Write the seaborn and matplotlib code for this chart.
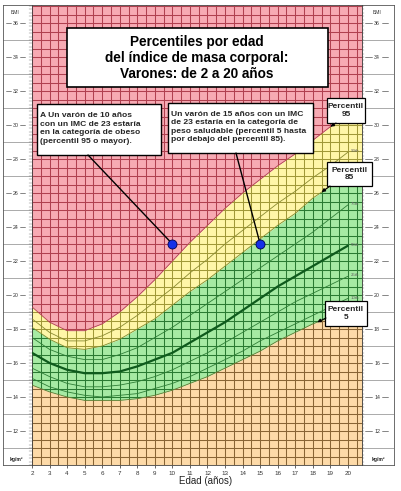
import numpy as np
import matplotlib
matplotlib.use("Agg")
import matplotlib.pyplot as plt
import seaborn as sns
from matplotlib.collections import LineCollection
from matplotlib.patches import Rectangle

# Percentile curves, boys BMI-for-age
ages = [2, 3, 4, 5, 6, 7, 8, 9, 10, 11, 12, 13, 14, 15, 16, 17, 18, 19, 20]
p5 = [14.7, 14.3, 14.0, 13.8, 13.8, 13.8, 13.9, 14.1, 14.4, 14.8, 15.2, 15.7, 16.2, 16.7, 17.3, 17.8, 18.3, 18.7, 19.1]
p10 = [15.1, 14.6, 14.3, 14.1, 14.0, 14.1, 14.2, 14.5, 14.8, 15.2, 15.7, 16.2, 16.7, 17.3, 17.8, 18.3, 18.8, 19.3, 19.8]
p25 = [15.7, 15.2, 14.8, 14.6, 14.6, 14.7, 14.9, 15.2, 15.6, 16.1, 16.6, 17.2, 17.8, 18.4, 19.0, 19.6, 20.1, 20.6, 21.1]
p50 = [16.6, 16.0, 15.6, 15.4, 15.4, 15.5, 15.8, 16.2, 16.6, 17.2, 17.8, 18.4, 19.1, 19.8, 20.5, 21.1, 21.7, 22.3, 22.9]
p75 = [17.5, 16.8, 16.4, 16.2, 16.2, 16.5, 16.9, 17.5, 18.1, 18.8, 19.5, 20.2, 20.9, 21.6, 22.3, 23.0, 23.7, 24.5, 25.3]
p85 = [18.1, 17.4, 16.9, 16.8, 17.0, 17.4, 18.0, 18.6, 19.4, 20.2, 20.9, 21.7, 22.5, 23.3, 24.1, 24.8, 25.7, 26.4, 27.0]
p90 = [18.6, 17.8, 17.3, 17.3, 17.6, 18.1, 18.8, 19.6, 20.4, 21.3, 22.1, 23.0, 23.8, 24.6, 25.4, 26.1, 26.9, 27.6, 28.4]
p95 = [19.3, 18.4, 17.9, 17.9, 18.3, 19.0, 19.9, 20.9, 22.0, 23.1, 24.1, 25.1, 26.0, 26.8, 27.6, 28.3, 29.1, 29.9, 30.6]

thin_labels = ["10th", "25th", "75th", "90th"]
tick_ages = list(range(2, 21))
bmi_labels = list(range(12, 37, 2))

dot_ages = [10, 15]
dot_bmi = [23, 23]

title = "Percentiles por edad\ndel índice de masa corporal:\nVarones: de 2 a 20 años"
note_a = ("A Un varón de 10 años\ncon un IMC de 23 estaría\n"
          "en la categoría de obeso\n(percentil 95 o mayor).")
note_b = ("Un varón de 15 años con un IMC\nde 23 estaría en la categoría de\n"
          "peso saludable (percentil 5 hasta\npor debajo del percentil 85).")

sns.set_style("white")
plt.rcParams['font.family'] = ['Liberation Sans', 'DejaVu Sans']

W, H = 402, 491
fig = plt.figure(figsize=(W / 100, H / 100), dpi=100)


def frac(x, y, w, h):
    return [x / W, 1 - (y + h) / H, w / W, h / H]


x0, x1 = 2, 2 + 330 / 17.55
y0, y1 = 10, 10 + 460 / 17.0


# BMI strips on both sides (drawn under the main chart)
def strip(rect, lab_x, dashes, ruler):
    s = fig.add_axes(frac(*rect))
    s.set_zorder(1)
    s.set_xlim(0, rect[2])
    s.set_ylim(y0, y1)
    s.set_xticks([])
    s.set_yticks([])
    for sp in s.spines.values():
        sp.set_linewidth(0.6)
        sp.set_color("#555555")
    for v in range(11, 37, 2):
        s.plot([0, rect[2]], [v, v], color="#888888", lw=0.5)
    for v in bmi_labels:
        s.text(lab_x, v, str(v), fontsize=3.8, ha="center", va="center", color="#333333")
        for a, b in dashes:
            s.plot([a, b], [v, v], color="#555555", lw=0.5)
    for v in np.arange(10, y1, 0.2):
        s.plot(ruler, [v, v], color="#666666", lw=0.3)
    s.text(lab_x, 36.6, "BMI", fontsize=3.6, ha="center", va="center", color="#333333")
    s.text(lab_x + 1, 10.35, "kg/m²", fontsize=3.6, ha="center", va="center",
           fontweight="bold", color="#222222")


strip((3, 5, 29, 460), 12.5, [(3, 8), (17, 22)], [26.5, 29])
strip((362, 5, 32, 460), 15, [(3, 10), (20, 26)], [0, 2.5])

ax = fig.add_axes(frac(32, 5, 330, 460))
ax.set_zorder(3)
ax.set_xlim(x0, x1)
ax.set_ylim(y0, y1)


def dx(px):
    return x0 + (px - 32) / 330 * (x1 - x0)


def dy(py):
    return y0 + (465 - py) / 460 * (y1 - y0)


# extend the coloured bands to the right edge of the grid
def extend(s):
    return list(s) + [s[-1] + (s[-1] - s[-2]) * (x1 - ages[-1])]


ext_x = ages + [x1]
bands = [
    (extend(p95), [y1] * len(ext_x), "#F7AAB3", "#B0404F"),
    (extend(p85), extend(p95), "#FFF6A8", "#A09838"),
    (extend(p5), extend(p85), "#A6EAA3", "#2A7A32"),
    ([y0] * len(ext_x), extend(p5), "#FDDAA8", "#886434"),
]

gx = np.arange(2, x1, 0.5)
gy = np.arange(10, y1, 0.5)
segs = [[(x, y0), (x, y1)] for x in gx] + [[(x0, y), (x1, y)] for y in gy]

for lo, hi, fc, gc in bands:
    poly = ax.fill_between(ext_x, lo, hi, color=fc, lw=0, zorder=1)
    lc = LineCollection(segs, colors=gc, linewidths=0.75, zorder=2)
    ax.add_collection(lc)
    lc.set_clip_path(poly.get_paths()[0], ax.transData)

# percentile lines
for s, c in [(p95, "#B0404F"), (p85, "#7E8A2E"), (p5, "#5E7A30")]:
    sns.lineplot(x=ages, y=s, ax=ax, color=c, lw=0.6, zorder=3)
for s, c in [(p10, "#2E7E36"), (p25, "#2E7E36"), (p75, "#2E7E36"), (p90, "#8A8A30")]:
    sns.lineplot(x=ages, y=s, ax=ax, color=c, lw=0.6, zorder=3)
sns.lineplot(x=ages, y=p50, ax=ax, color="#0E5A1C", lw=1.6, zorder=4)

for lab, s in zip(thin_labels + ["50th"], [p10, p25, p75, p90, p50]):
    ax.text(ages[-1] + 0.15, s[-1] + 0.05, lab, fontsize=3.2, color="#666666",
            ha="left", va="center", zorder=5)

# title box
ax.add_patch(Rectangle((dx(67), dy(87)), dx(328) - dx(67), dy(28) - dy(87),
                       fc="white", ec="black", lw=1.2, zorder=6))
ax.text(dx(197), dy(58), title, ha="center", va="center", fontsize=9.8,
        fontweight="bold", linespacing=1.15, zorder=7, color="black")

# annotation boxes
ax.add_patch(Rectangle((dx(37), dy(155)), dx(161) - dx(37), dy(104) - dy(155),
                       fc="white", ec="black", lw=1.0, zorder=6))
ax.text(dx(40), dy(128.5), note_a, ha="left", va="center", fontsize=6.1,
        fontweight="bold", linespacing=1.3, zorder=7)
ax.add_patch(Rectangle((dx(168), dy(153)), dx(313) - dx(168), dy(103) - dy(153),
                       fc="white", ec="black", lw=1.0, zorder=6))
ax.text(dx(171), dy(127), note_b, ha="left", va="center", fontsize=6.1,
        fontweight="bold", linespacing=1.3, zorder=7)

ax.plot([dx(88), dot_ages[0]], [dy(155), dot_bmi[0]], color="black", lw=1.0, zorder=6)
ax.plot([dx(236), dot_ages[1]], [dy(153), dot_bmi[1]], color="black", lw=1.0, zorder=6)
sns.scatterplot(x=dot_ages, y=dot_bmi, ax=ax, s=42, color="#1530E8",
                edgecolor="#000050", linewidth=0.6, zorder=8)

# "Percentil" call-outs
callouts = [
    ("95", (327, 98, 365, 123), 19, p95, (336, 123)),
    ("85", (327, 162, 372, 186), 18.5, p85, (330, 186)),
    ("5", (325, 301, 367, 326), 18.25, p5, (326, 318)),
]
for lab, (l, t, r, b), a, s, start in callouts:
    ax.add_patch(Rectangle((dx(l), dy(b)), dx(r) - dx(l), dy(t) - dy(b),
                           fc="white", ec="black", lw=0.9, zorder=9, clip_on=False))
    ax.text((dx(l) + dx(r)) / 2, (dy(t) + dy(b)) / 2, "Percentil\n" + lab,
            ha="center", va="center", fontsize=6.0, fontweight="bold",
            linespacing=1.05, zorder=10, clip_on=False)
    ax.annotate("", xy=(a, np.interp(a, ages, s)), xytext=(dx(start[0]), dy(start[1])),
                arrowprops=dict(arrowstyle="-|>", color="black", lw=0.8,
                                mutation_scale=5, shrinkA=0, shrinkB=0), zorder=9)

ax.set_xticks(tick_ages)
ax.set_xticklabels([str(a) for a in tick_ages], fontsize=4.5, color="#333333")
ax.tick_params(axis="x", length=2, width=0.5, pad=2, direction="out", bottom=True)
ax.set_yticks([])
for sp in ax.spines.values():
    sp.set_linewidth(0.6)
    sp.set_color("#444444")
ax.set_xlabel("")
fig.text(206 / W, 1 - 481 / H, "Edad (años)", ha="center", va="center", fontsize=7,
         color="#222222")

fig.savefig("out.png", dpi=100)
